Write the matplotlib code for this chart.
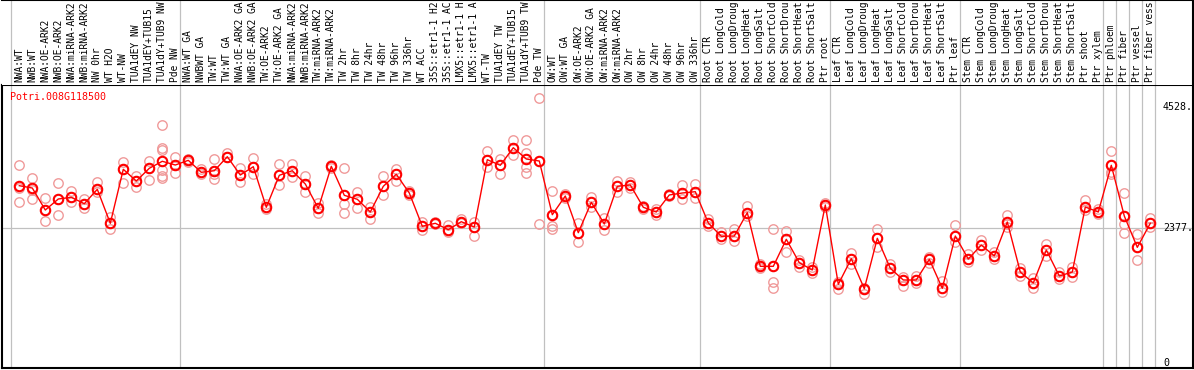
import numpy as np
import matplotlib
matplotlib.use("Agg")
import matplotlib.pyplot as plt

# Sample names (column headers)
labels = [
    "NWA:WT", "NWB:WT", "NWA:OE-ARK2", "NWB:OE-ARK2", "NWA:miRNA-ARK2", "NWB:miRNA-ARK2",
    "NW 0hr", "WT H2O", "WT-NW", "TUA1dEY NW", "TUA1dEY+TUB15", "TUA1dY+TUB9 NW", "Pde NW",
    "NWA:WT GA", "NWBWT GA", "TW:WT", "TW:WT GA", "NWA:OE-ARK2 GA", "NWB:OE-ARK2 GA",
    "TW:OE-ARK2", "TW:OE-ARK2 GA", "NWA:miRNA-ARK2 GA", "NWB:miRNA-ARK2 GA", "TW:miRNA-ARK2",
    "TW:miRNA-ARK2", "TW 2hr", "TW 8hr", "TW 24hr", "TW 48hr", "TW 96hr", "TW 336hr", "WT ACC",
    "35S::etr1-1 H2O", "35S::etr1-1 ACC", "LMX5::etr1-1 H2O", "LMX5::etr1-1 ACC", "WT-TW",
    "TUA1dEY TW", "TUA1dEY+TUB15", "TUA1dY+TUB9 TW", "Pde TW",
    "OW:WT", "OW:WT GA", "OW:OE-ARK2", "OW:OE-ARK2 GA", "OW:miRNA-ARK2", "OW:miRNA-ARK2",
    "OW 2hr", "OW 8hr", "OW 24hr", "OW 48hr", "OW 96hr", "OW 336hr",
    "Root CTR", "Root LongCold", "Root LongDrought", "Root LongHeat", "Root LongSalt",
    "Root ShortCold", "Root ShortDrought", "Root ShortHeat", "Root ShortSalt", "Ptr root",
    "Leaf CTR", "Leaf LongCold", "Leaf LongDrought", "Leaf LongHeat", "Leaf LongSalt",
    "Leaf ShortCold", "Leaf ShortDrought", "Leaf ShortHeat", "Leaf ShortSalt", "Ptr leaf",
    "Stem CTR", "Stem LongCold", "Stem LongDrought", "Stem LongHeat", "Stem LongSalt",
    "Stem ShortCold", "Stem ShortDrought", "Stem ShortHeat", "Stem ShortSalt", "Ptr shoot",
    "Ptr xylem", "Ptr phloem", "Ptr fiber", "Ptr vessel", "Ptr fiber vessel",
]

# mean expression per sample
means = [
    3131, 3090, 2701, 2896, 2926, 2813, 3067, 2466, 3421, 3214, 3439, 3563, 3497,
    3580, 3368, 3396, 3644, 3320, 3467, 2749, 3315, 3396, 3161, 2731, 3474, 2961,
    2891, 2666, 3120, 3333, 3002, 2413, 2466, 2353, 2494, 2401, 3591, 3492, 3803,
    3603, 3568,
    2618, 2949, 2300, 2837, 2454, 3120, 3144, 2749, 2666, 2967, 3002, 3025,
    2471, 2236, 2241, 2654, 1705, 1705, 2183, 1769, 1640, 2790,
    1387, 1840, 1309, 2201, 1670, 1463, 1463, 1829, 1316, 2241,
    1834, 2082, 1888, 2489, 1604, 1410, 1994, 1534, 1604, 2754, 2666,
    3492, 2595, 2041, 2466,
]

# individual replicates per sample
replicates = [
    [3501, 3085, 2837], [3262, 3055, 2891], [2914, 2701, 2501], [3174, 2896, 2607],
    [3043, 2926, 2837], [2896, 2813, 2742], [3197, 3067, 3020], [2583, 2466, 2370],
    [3545, 3421, 3184], [3303, 3214, 3113], [3568, 3439, 3232],
    [4200, 3793, 3763, 3409, 3303, 3262], [3639, 3497, 3356],
    [3603, 3580, 3559], [3427, 3368, 3333], [3598, 3396, 3338, 3244], [3704, 3644, 3634],
    [3439, 3320, 3202], [3621, 3467, 3338], [2807, 2749, 2714], [3510, 3315, 3138],
    [3510, 3396, 3290], [3303, 3161, 3020], [2820, 2731, 2648], [3497, 3474, 3453],
    [3439, 2961, 2802, 2654], [3025, 2891, 2731], [2749, 2666, 2547], [3297, 3120, 2961],
    [3432, 3333, 3220], [3037, 3002, 2967], [2484, 2413, 2353], [2484, 2466, 2448],
    [2441, 2353, 2317], [2537, 2494, 2466], [2489, 2401, 2247], [3740, 3591, 3467],
    [3598, 3492, 3338], [3945, 3803, 3669], [3945, 3704, 3603, 3467, 3350],
    [4682, 3568, 2448],
    [3032, 2618, 2424, 2365], [2984, 2949, 2922], [2466, 2300, 2130], [2937, 2837, 2749],
    [2560, 2454, 2347], [3209, 3120, 3014], [3191, 3144, 3090], [2777, 2749, 2714],
    [2724, 2666, 2613], [2984, 2967, 2949], [3138, 3002, 2896], [3161, 3025, 2908],
    [2537, 2471, 2418], [2317, 2236, 2183], [2360, 2241, 2153], [2772, 2654, 2595],
    [1746, 1705, 1681], [2360, 1705, 1433, 1316], [2335, 2183, 1958], [1817, 1769, 1693],
    [1688, 1640, 1592], [2830, 2790, 2749],
    [1433, 1387, 1298], [1946, 1840, 1746], [1316, 1309, 1210], [2360, 2201, 2052],
    [1746, 1670, 1599], [1521, 1463, 1362], [1534, 1463, 1405], [1875, 1829, 1758],
    [1451, 1316, 1256], [2436, 2241, 2140],
    [1923, 1834, 1781], [2171, 2082, 1994], [1958, 1888, 1834], [2613, 2454, 2400],
    [1675, 1604, 1534], [1498, 1410, 1321], [2100, 1994, 1888], [1604, 1534, 1481],
    [1693, 1604, 1516], [2878, 2754, 2701], [2719, 2666, 2631],
    [3745, 3492, 3368, 3338], [2997, 2595, 2454, 2300], [2271, 2041, 1811],
    [2565, 2466, 2395],
]

# first column of each group (gray separators drawn before them)
group_starts = [1, 14, 42, 54, 64, 74, 85, 86, 87, 88, 89]
ref_ticks = [0, 2377, 4528]
ref_tick_labels = ["0", "2377.", "4528."]
gene = "Potri.008G118500"
max_chars = 14  # header only shows this many characters

W, H = 1194, 370
fig = plt.figure(figsize=(W / 100, H / 100), dpi=100)
mono = "DejaVu Sans Mono"

# column i is centred at pixel 6.3 + 13*i
x_left = (1.5 - 6.3) / 13
x_right = (1193 - 6.3) / 13
# value 0 at pixel row 362.7, 0.05653 px per unit
k = 0.05653
y_top = (362.7 - 85) / k
y_bot = (362.7 - 368) / k

ax = fig.add_axes([1.5 / W, (H - 368) / H, (1193 - 1.5) / W, (368 - 85) / H])
ax.set_xlim(x_left, x_right)
ax.set_ylim(y_bot, y_top)
ax.set_xticks([])
ax.set_yticks([])
for s in ax.spines.values():
    s.set_linewidth(1.5)
    s.set_color("black")

hd = fig.add_axes([1.5 / W, (H - 85) / H, (1193 - 1.5) / W, 85 / H])
hd.set_xlim(x_left, x_right)
hd.set_ylim(0, 1)
hd.set_xticks([])
hd.set_yticks([])
for name, s in hd.spines.items():
    s.set_visible(name in ("top", "right"))
    s.set_linewidth(1.5)

for j in group_starts:
    ax.axvline(j - 0.638, color="#c0c0c0", lw=0.9, zorder=1)
    hd.axvline(j - 0.638, color="#c0c0c0", lw=0.9, zorder=1)
ax.axhline(2377, color="#c0c0c0", lw=0.9, zorder=1)

xs = np.arange(1, len(means) + 1)
for x, reps in zip(xs, replicates):
    ax.plot([x] * len(reps), reps, linestyle="none", marker="o", ms=6.8,
            mfc="none", mec="#f09a9a", mew=1.0, zorder=2)
ax.plot(xs, means, color="red", lw=1.0, zorder=3)
ax.plot(xs, means, linestyle="none", marker="o", ms=6.8, mfc="none",
        mec="red", mew=1.5, zorder=4)

for x, lab in zip(xs, labels):
    hd.text(x, 2.5 / 85, lab[:max_chars], rotation=90, ha="center", va="bottom",
            family=mono, fontsize=6.9, color="black")

ax.text(0.3, (362.7 - 96.7) / k, gene, color="red", family=mono,
        fontsize=7.2, va="center", ha="left")

x_lab = (1163 - 6.3) / 13
for v, t in zip(ref_ticks, ref_tick_labels):
    ax.text(x_lab, v, t, family=mono, fontsize=7.2, va="center", ha="left")

fig.savefig("out.png", dpi=100)
